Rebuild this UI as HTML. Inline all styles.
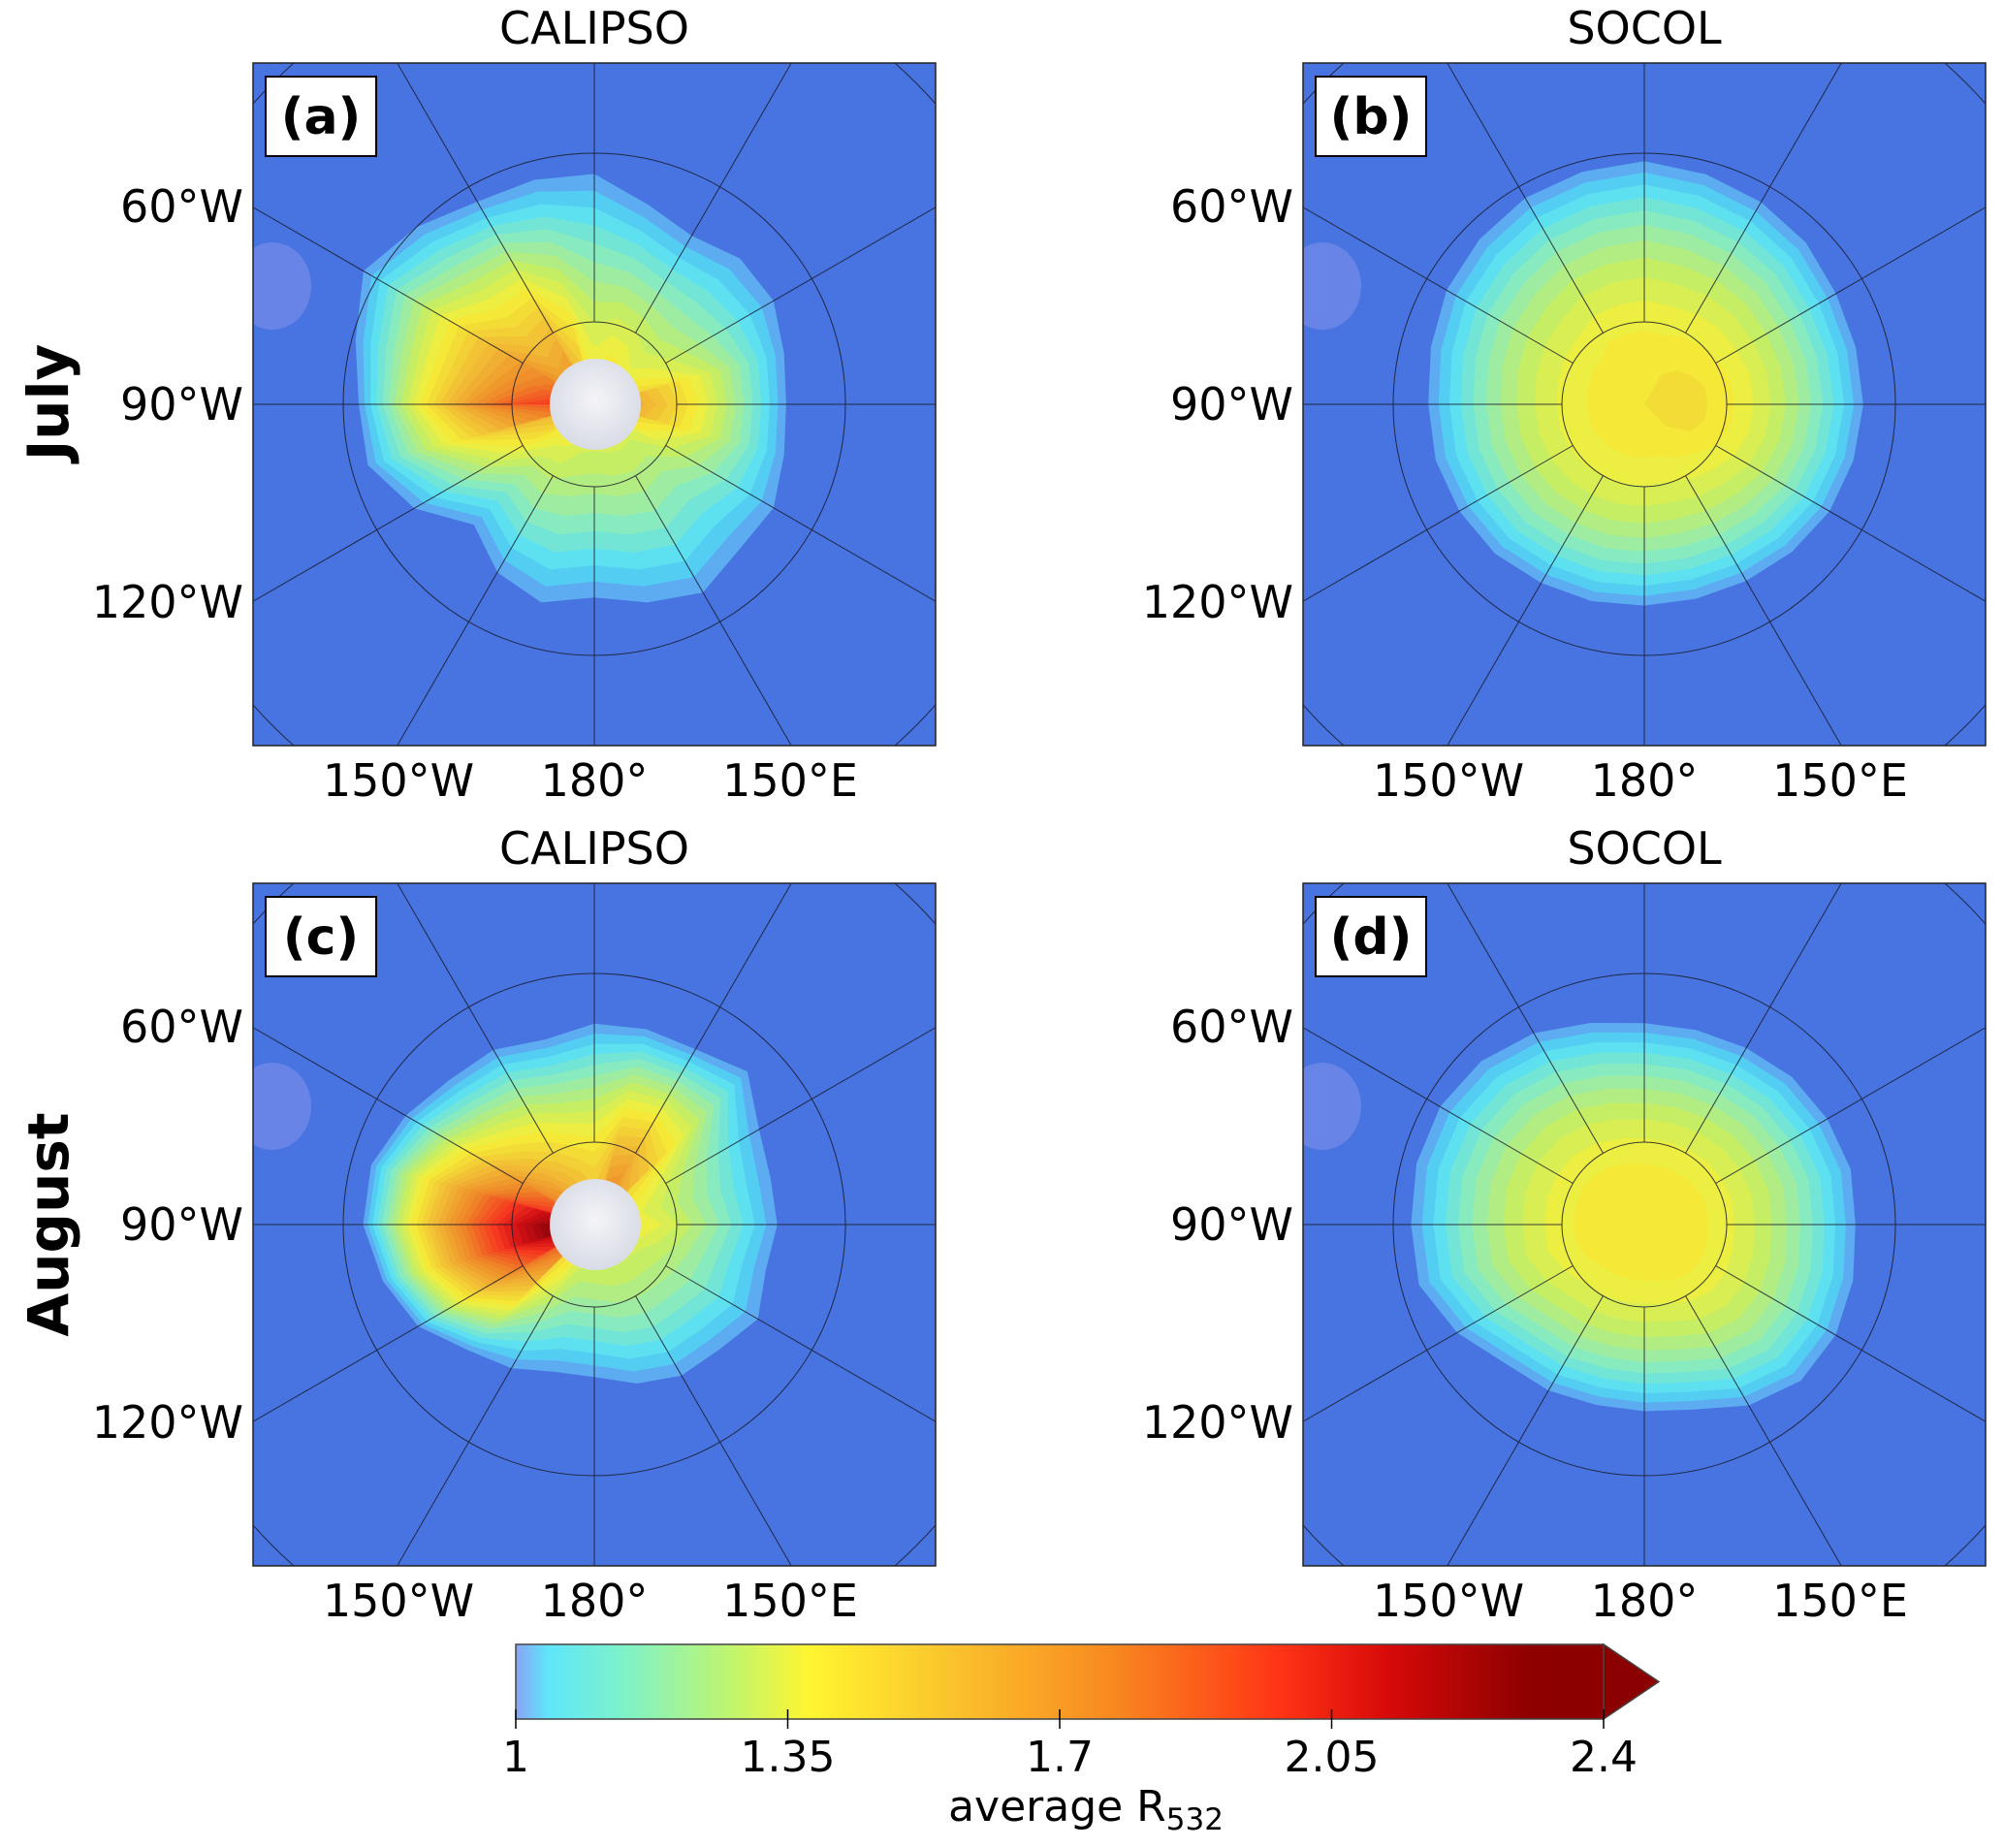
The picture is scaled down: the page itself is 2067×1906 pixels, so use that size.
<!DOCTYPE html>
<html><head><meta charset="utf-8">
<style>
html,body{margin:0;padding:0;background:#fff;width:2067px;height:1906px;overflow:hidden;}
body{position:relative;font-family:"Liberation Sans","DejaVu Sans",sans-serif;}
svg{display:block;position:absolute;left:0;top:0;}
svg text{font-family:"DejaVu Sans","Liberation Sans",sans-serif;}
</style></head>
<body>
<svg id="fig" width="2067" height="1906" viewBox="0 0 2067 1906" xmlns="http://www.w3.org/2000/svg">
<defs>
<linearGradient id="cbgrad" x1="0" x2="1" y1="0" y2="0">
<stop offset="0" stop-color="#8aa3f5"/>
<stop offset="0.03" stop-color="#5fe6fa"/>
<stop offset="0.1" stop-color="#7ef2c8"/>
<stop offset="0.2" stop-color="#c2f56c"/>
<stop offset="0.27" stop-color="#fff530"/>
<stop offset="0.4" stop-color="#fbc32c"/>
<stop offset="0.55" stop-color="#f88820"/>
<stop offset="0.7" stop-color="#ff3515"/>
<stop offset="0.8" stop-color="#d80a0a"/>
<stop offset="0.93" stop-color="#8e0000"/>
<stop offset="1" stop-color="#8b0000"/>
</linearGradient>
<radialGradient id="pole" cx="0.5" cy="0.45" r="0.6">
<stop offset="0" stop-color="#f4f4f8"/><stop offset="1" stop-color="#d6d9e4"/>
</radialGradient>
</defs>
<g id="panels"></g>
<text transform="translate(70,415) rotate(-90)" text-anchor="middle" font-size="58" font-weight="bold">July</text>
<text transform="translate(70,1263) rotate(-90)" text-anchor="middle" font-size="58" font-weight="bold">August</text>
<g>
<rect x="532" y="1696" width="1122" height="77" fill="url(#cbgrad)" stroke="#444" stroke-width="1.5"/>
<polygon points="1654,1696 1711,1734.5 1654,1773" fill="#8b0000" stroke="#444" stroke-width="1.5"/>
<g id="cbticks"></g>
<text x="1120" y="1878" text-anchor="middle" font-size="44">average R<tspan font-size="31" dy="9">532</tspan></text>
</g>
</svg>
<script>
// colorbar ticks
const cbTicks = [1, 1.35, 1.7, 2.05, 2.4];
// sector angles (deg, screen clockwise from top)
const sectorAngles = [0,15,30,45,60,75,90,105,120,135,150,165,180,195,210,225,240,255,270,285,300,315,330,345];
// reach of enhanced aerosol (fraction of 60°S circle radius)
const reachA = [0.95,0.85,0.8,0.85,0.85,0.8,0.78,0.8,0.85,0.85,0.9,0.85,0.8,0.85,0.8,0.7,0.85,0.95,0.95,1.0,1.08,1.02,0.95,0.95];
const peakA  = [1.45,1.5,1.5,1.45,1.5,1.7,1.75,1.7,1.5,1.4,1.4,1.4,1.4,1.4,1.45,1.5,1.6,1.9,2.25,2.0,1.9,1.75,1.8,1.6];
const reachB = [0.99,0.97,0.95,0.93,0.9,0.89,0.89,0.88,0.87,0.85,0.83,0.82,0.82,0.83,0.84,0.86,0.87,0.88,0.88,0.9,0.93,0.95,0.97,0.98];
const peakB  = [1.46,1.46,1.47,1.48,1.49,1.5,1.5,1.5,1.49,1.47,1.46,1.45,1.45,1.45,1.45,1.45,1.45,1.45,1.45,1.45,1.45,1.45,1.46,1.46];
const reachC = [0.82,0.82,0.82,0.88,0.78,0.75,0.75,0.73,0.78,0.73,0.72,0.68,0.63,0.63,0.68,0.72,0.82,0.88,0.93,0.93,0.88,0.83,0.82,0.78];
const peakC  = [1.6,1.8,1.85,1.7,1.5,1.45,1.5,1.45,1.4,1.4,1.4,1.4,1.4,1.4,1.5,1.9,2.2,2.45,2.45,2.3,2.0,1.8,1.7,1.65];
const reachD = [0.82,0.82,0.83,0.85,0.86,0.87,0.86,0.88,0.9,0.9,0.85,0.78,0.76,0.76,0.78,0.8,0.88,0.95,0.95,0.96,0.96,0.94,0.9,0.85];
const peakD  = [1.46,1.46,1.46,1.46,1.46,1.46,1.46,1.46,1.46,1.46,1.46,1.46,1.46,1.46,1.46,1.46,1.46,1.46,1.46,1.46,1.46,1.46,1.46,1.46];
const lonTickLeft = ["60°W","90°W","120°W"];
const lonTickBottom = ["150°W","180°","150°E"];

const NS="http://www.w3.org/2000/svg";
function el(tag,attrs,parent){const e=document.createElementNS(NS,tag);for(const k in attrs)e.setAttribute(k,attrs[k]);if(parent)parent.appendChild(e);return e;}
const cStops=[[1.0,[110,150,240]],[1.04,[80,200,245]],[1.1,[95,230,240]],[1.18,[140,242,190]],[1.3,[205,245,95]],[1.4,[255,245,48]],[1.56,[251,195,44]],[1.77,[248,136,32]],[1.98,[255,53,21]],[2.12,[216,10,10]],[2.3,[142,0,0]],[2.5,[139,0,0]]];
function cmap(v){for(let i=0;i<cStops.length-1;i++){const a=cStops[i],b=cStops[i+1];if(v<=b[0]){const t=Math.max(0,(v-a[0])/(b[0]-a[0]));return 'rgb('+a[1].map((c,j)=>Math.round(c+(b[1][j]-c)*t)).join(',')+')';}}return 'rgb(139,0,0)';}
const cbX=v=>532+(v-1)/(2.4-1)*1122;
const cbg=document.getElementById('cbticks');
cbTicks.forEach(t=>{
 const l=el('line',{x1:cbX(t),x2:cbX(t),y1:1763,y2:1783,stroke:'#000','stroke-width':1.5},cbg);
 
 
 const tx=el('text',{x:cbX(t),y:1827,'text-anchor':'middle','font-size':44},cbg);
 tx.textContent=String(t);
 
 
});

const panels=[
 {id:'a',x:261,y:65,title:'CALIPSO',reach:reachA,peak:peakA,pole:true,ex:1.3},
 {id:'b',x:1344,y:65,title:'SOCOL',reach:reachB,peak:peakB,pole:false,ex:2.0},
 {id:'c',x:261,y:911,title:'CALIPSO',reach:reachC,peak:peakC,pole:true,ex:1.4},
 {id:'d',x:1344,y:911,title:'SOCOL',reach:reachD,peak:peakD,pole:false,ex:2.0}
];
const W=704,R60=259,R80=85,R40=469;
const root=document.getElementById('panels');
panels.forEach(p=>{
 const g=el('g',{},root);
 
 
 const cx=p.x+W/2, cy=p.y+W/2;
 el('clipPath',{id:'clip'+p.id},g).appendChild(el('rect',{x:p.x,y:p.y,width:W,height:W}));
 const inner=el('g',{'clip-path':'url(#clip'+p.id+')'},g);
 el('rect',{x:p.x,y:p.y,width:W,height:W,fill:'#4774e0'},inner);
 el('ellipse',{cx:p.x+20,cy:p.y+230,rx:40,ry:45,fill:'#7088e8',opacity:0.8},inner);
 const hm=el('g',{opacity:0.95},inner);
 
 
 for(let L=1.02;L<2.5;L+=0.04){
  const pts=[];let any=false;
  sectorAngles.forEach((a,i)=>{
   const pk=p.peak[i];let f=0;
   if(L<pk){f=Math.pow(1-(L-1)/(pk-1),1/p.ex);any=true;}
   const r=p.reach[i]*R60*f;
   const th=a*Math.PI/180;
   pts.push((cx+r*Math.sin(th)).toFixed(1)+','+(cy-r*Math.cos(th)).toFixed(1));
  });
  if(!any)continue;
  const poly=el('polygon',{points:pts.join(' '),fill:cmap(L),'stroke-linejoin':'round'},hm);
  
  
 }
 if(p.pole){
  const d=el('circle',{cx:cx+1,cy:cy,r:47,fill:'url(#pole)'},inner);
  
  
 }
 const gr=el('g',{stroke:'#1a1a2a','stroke-width':1,fill:'none',opacity:0.85},inner);
 
 
 for(let a=0;a<360;a+=30){const th=a*Math.PI/180;
  el('line',{x1:cx+R80*Math.sin(th),y1:cy-R80*Math.cos(th),x2:cx+900*Math.sin(th),y2:cy-900*Math.cos(th)},gr);}
 [R80,R60,R40].forEach(r=>el('circle',{cx:cx,cy:cy,r:r},gr));
 el('rect',{x:p.x,y:p.y,width:W,height:W,fill:'none',stroke:'#222','stroke-width':1.5},g);
 const lb=el('g',{},g);
 
 
 el('rect',{x:p.x+13,y:p.y+14,width:114,height:82,fill:'#fff',stroke:'#000','stroke-width':2},lb);
 const lt=el('text',{x:p.x+70,y:p.y+73,'text-anchor':'middle','font-size':52,'font-weight':'bold'},lb);
 lt.textContent='('+p.id+')';
 const tt=el('text',{x:cx,y:p.y-20,'text-anchor':'middle','font-size':46},g);
 tt.textContent=p.title;
 
 
 lonTickLeft.forEach((s,i)=>{
  const t=el('text',{x:p.x-10,y:cy-204+204*i+16,'text-anchor':'end','font-size':46},g);
  t.textContent=s;
  
  
 });
 lonTickBottom.forEach((s,i)=>{
  const t=el('text',{x:cx-202+202*i,y:p.y+W+52,'text-anchor':'middle','font-size':46},g);
  t.textContent=s;
  
  
 });
});
</script>
</body></html>
